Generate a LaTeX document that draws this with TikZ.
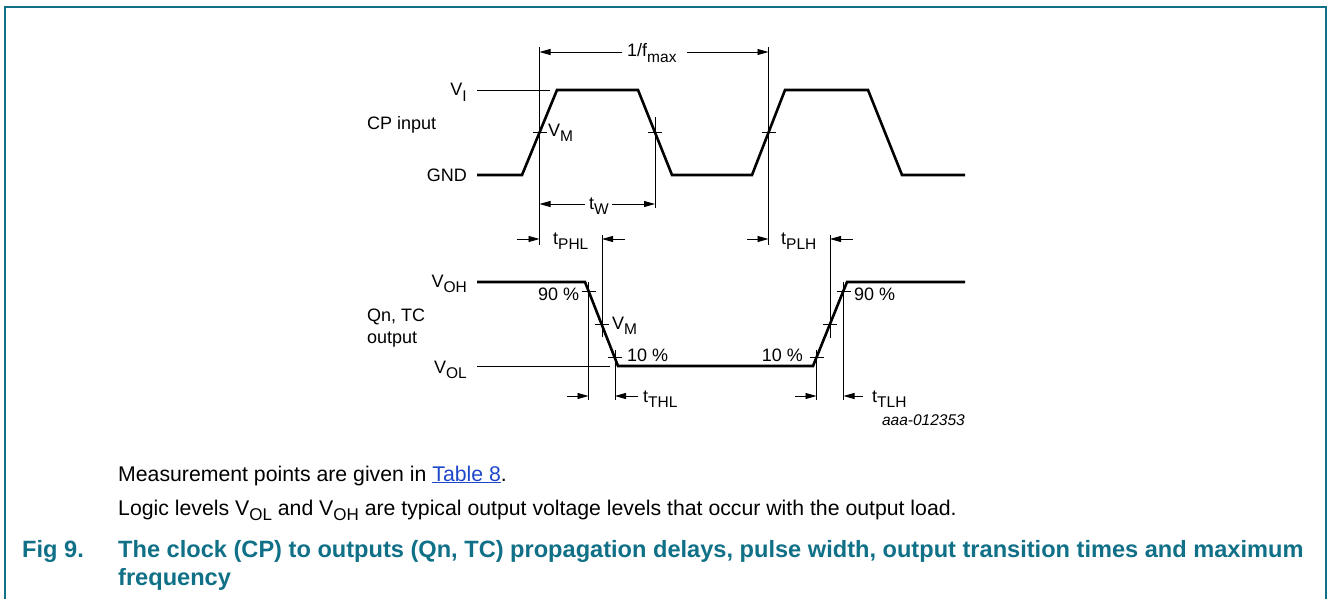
\documentclass[tikz,border=0pt]{standalone}
\usepackage{fontspec}
\setmainfont{Liberation Sans}
\usetikzlibrary{arrows.meta}
\definecolor{nxteal}{RGB}{16,112,135}
\definecolor{linkblue}{RGB}{30,70,200}
\newcommand\lsub[1]{\raisebox{-0.28em}{\fontsize{15.5}{15.5}\selectfont #1}}
\newcommand\bsub[1]{\raisebox{-0.28em}{\fontsize{17}{17}\selectfont #1}}
\begin{document}
\begin{tikzpicture}[x=1pt,y=-1pt,
  wave/.style={line width=2.6pt, line join=miter},
  refline/.style={line width=0.9pt},
  dim/.style={line width=0.9pt, -{Triangle[length=11pt,width=6pt]}},
  lbl/.style={inner sep=0pt, font=\fontsize{18}{18}\selectfont},
  body/.style={inner sep=0pt, anchor=base west, font=\fontsize{21.25}{21.25}\selectfont},
  captxt/.style={inner sep=0pt, anchor=base west, text=nxteal, font=\fontsize{23.6}{23.6}\selectfont\bfseries},
  frame/.style={line width=1.8pt, draw=nxteal}
]
\useasboundingbox (0,0) rectangle (1330,599);
% frame
\draw[frame] (5,599) -- (5,7) -- (1326,7) -- (1326,599);

% ---------- CP input waveform ----------
\coordinate (c0) at (477,175);
\coordinate (c1) at (522,175);
\coordinate (c2) at (557,90);
\coordinate (c3) at (638,90);
\coordinate (c4) at (672,175);
\coordinate (c5) at (752,175);
\coordinate (c6) at (785,90);
\coordinate (c7) at (868,90);
\coordinate (c8) at (902,175);
\coordinate (c9) at (965,175);
\draw[wave] (c0) -- (c1) -- (c2) -- (c3) -- (c4) -- (c5) -- (c6) -- (c7) -- (c8) -- (c9);

% V_I reference line
\coordinate (vi0) at (477,90);
\coordinate (vi1) at (550,90);
\draw[refline] (vi0) -- (vi1);

% vertical reference lines (CP)
\coordinate (L1t) at (539.5,47);  \coordinate (L1b) at (539.5,245);
\coordinate (L2t) at (768.5,47);  \coordinate (L2b) at (768.5,245);
\coordinate (L3t) at (655,117);   \coordinate (L3b) at (655,208);
\draw[refline] (L1t) -- (L1b);
\draw[refline] (L2t) -- (L2b);
\draw[refline] (L3t) -- (L3b);
% V_M ticks
\draw[refline] (532.5,132.5) -- (546.5,132.5);
\draw[refline] (648,132.5) -- (662,132.5);
\draw[refline] (761.5,132.5) -- (775.5,132.5);

% labels CP
\node[lbl, anchor=base east] (lVI) at (467,96) {V\lsub{I}};
\node[lbl, anchor=base west] (lCP) at (367,130) {CP input};
\node[lbl, anchor=base east] (lGND) at (467,181.5) {GND};
\node[lbl, anchor=base west] (lVM1) at (548,136) {V\lsub{M}};

% 1/fmax
\node[lbl, anchor=base west] (lf) at (627,57) {1/f\lsub{max}};
\coordinate (fL) at (622,52); \coordinate (fR) at (687,52);
\draw[dim] (fL) -- (L1t |- fL);
\draw[dim] (fR) -- (L2t |- fR);

% tW
\node[lbl, anchor=base west] (ltw) at (589,209) {t\lsub{W}};
\coordinate (twL) at (585,204); \coordinate (twR) at (612,204);
\draw[dim] (twL) -- (L1t |- twL);
\draw[dim] (twR) -- (L3t |- twR);

% ---------- Output waveform ----------
\coordinate (o0) at (477,282);
\coordinate (o1) at (585,282);
\coordinate (o2) at (618,366);
\coordinate (o3) at (813,366);
\coordinate (o4) at (847,282);
\coordinate (o5) at (965,282);
\draw[wave] (o0) -- (o1) -- (o2) -- (o3) -- (o4) -- (o5);

% V_OL reference line
\coordinate (vol0) at (477,366);
\coordinate (vol1) at (610,366);
\draw[refline] (vol0) -- (vol1);

% vertical lines output
\coordinate (M1t) at (602,235);   \coordinate (M1b) at (602,337);
\coordinate (M2t) at (830,235);   \coordinate (M2b) at (830,338);
\coordinate (N1t) at (588.5,282); \coordinate (N1b) at (588.5,400);
\coordinate (T1t) at (615,350);   \coordinate (T1b) at (615,400);
\coordinate (T2t) at (816.5,350); \coordinate (T2b) at (816.5,400);
\coordinate (N2t) at (843.5,282); \coordinate (N2b) at (843.5,400);
\draw[refline] (M1t) -- (M1b);
\draw[refline] (M2t) -- (M2b);
\draw[refline] (N1t) -- (N1b);
\draw[refline] (T1t) -- (T1b);
\draw[refline] (T2t) -- (T2b);
\draw[refline] (N2t) -- (N2b);
% ticks
\draw[refline] (581.5,291) -- (595.5,291);
\draw[refline] (595,324) -- (609,324);
\draw[refline] (608,357) -- (622,357);
\draw[refline] (809.5,357) -- (823.5,357);
\draw[refline] (823,324) -- (837,324);
\draw[refline] (836.5,291) -- (850.5,291);

% labels output
\node[lbl, anchor=base east] (lVOH) at (467,287) {V\lsub{OH}};
\node[lbl, anchor=base east] (lVOL) at (467,373) {V\lsub{OL}};
\node[lbl, anchor=base west] (lQn) at (367,321) {Qn, TC};
\node[lbl, anchor=base west] (lout) at (367,343) {output};
\node[lbl, anchor=base west] (l90a) at (538,300) {90 \%};
\node[lbl, anchor=base west] (lVM2) at (612,329) {V\lsub{M}};
\node[lbl, anchor=base west] (l10a) at (627,361) {10 \%};
\node[lbl, anchor=base east] (l10b) at (803,361) {10 \%};
\node[lbl, anchor=base west] (l90b) at (854,300) {90 \%};

% tPHL
\node[lbl, anchor=base west] (lphl) at (553,244) {t\lsub{PHL}};
\coordinate (phlL) at (517,239); \coordinate (phlR) at (625,239);
\draw[dim] (phlL) -- (L1b |- phlL);
\draw[dim] (phlR) -- (M1t |- phlR);
% tPLH
\node[lbl, anchor=base west] (lplh) at (781,244) {t\lsub{PLH}};
\coordinate (plhL) at (747,239); \coordinate (plhR) at (853,239);
\draw[dim] (plhL) -- (L2b |- plhL);
\draw[dim] (plhR) -- (M2t |- plhR);
% tTHL
\node[lbl, anchor=base west] (lthl) at (643,402) {t\lsub{THL}};
\coordinate (thlL) at (567,396); \coordinate (thlR) at (638,396);
\draw[dim] (thlL) -- (N1b |- thlL);
\draw[dim] (thlR) -- (T1b |- thlR);
% tTLH
\node[lbl, anchor=base west] (ltlh) at (872,402) {t\lsub{TLH}};
\coordinate (tlhL) at (795,396); \coordinate (tlhR) at (863,396);
\draw[dim] (tlhL) -- (T2b |- tlhL);
\draw[dim] (tlhR) -- (N2b |- tlhR);

% figure id
\node[inner sep=0pt, anchor=base east, font=\fontsize{15.5}{15.5}\selectfont\itshape] (lid) at (965,425) {aaa-012353};

% ---------- text ----------
\node[body] (t1) at (118,481) {Measurement points are given in \textcolor{linkblue}{\underline{Table 8}}.};
\node[body] (t2) at (118,515) {Logic levels V\bsub{OL} and V\bsub{OH} are typical output voltage levels that occur with the output load.};
\node[captxt] (fig) at (22,557) {Fig 9.};
\node[captxt] (cap1) at (118,557) {The clock (CP) to outputs (Qn, TC) propagation delays, pulse width, output transition times and maximum};
\node[captxt] (cap2) at (118,585) {frequency};
\end{tikzpicture}
\end{document}
